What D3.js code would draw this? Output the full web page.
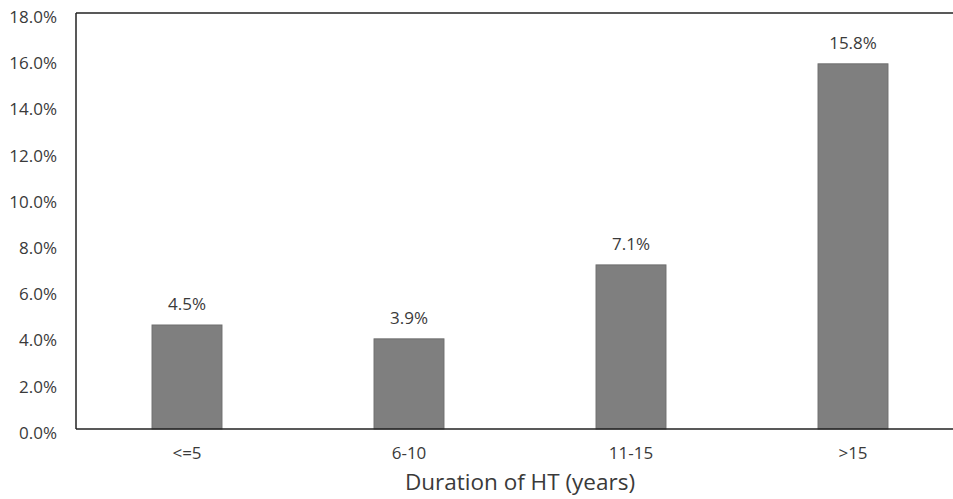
<!DOCTYPE html>
<html><head><meta charset="utf-8">
<script src="https://cdn.jsdelivr.net/npm/d3@7"></script>
<style>body{margin:0;background:#fff}svg{display:block}text{font-family:"Open Sans",sans-serif;fill:#3a3a3a}</style>
</head><body><svg width="953" height="499"></svg>
<script>
const categories = ["<=5","6-10","11-15",">15"];
const values = [4.5,3.9,7.1,15.8];
const yTicks = [0,2,4,6,8,10,12,14,16,18];
const xTitle = "Duration of HT (years)";

(function(){
const svg = d3.select("svg");
const pL = 76, pR = 964, pT = 13, pB = 429;
const x = d3.scaleBand().domain(categories).range([pL,pR]).paddingInner(0.685).paddingOuter(0.3425);
const y = d3.scaleLinear().domain([0,18]).range([pB,pT]);

svg.selectAll("rect.bar").data(values).join("rect").attr("class","bar")
  .attr("x",(d,i)=>x(categories[i])).attr("width",x.bandwidth())
  .attr("y",d=>y(d)).attr("height",d=>y(0)-y(d))
  .attr("fill","#7f7f7f").attr("stroke","#6e6e6e").attr("stroke-width",1);

svg.selectAll("text.val").data(values).join("text").attr("class","val")
  .attr("x",(d,i)=>x(categories[i])+x.bandwidth()/2).attr("y",d=>y(d)-15)
  .attr("text-anchor","middle").attr("font-size",17).text(d=>d.toFixed(1)+"%");

const ya = svg.append("g").attr("transform",`translate(${pL},0)`)
  .call(d3.axisLeft(y).tickValues(yTicks).tickSize(0).tickPadding(19).tickFormat(d=>d.toFixed(1)+"%"));
ya.select(".domain").remove();
ya.selectAll("text").attr("font-size",17).attr("dy","0.55em").style("font-family","'Open Sans',sans-serif").attr("fill","#3a3a3a");

const xa = svg.append("g").attr("transform",`translate(0,${pB})`)
  .call(d3.axisBottom(x).tickSize(0).tickPadding(18));
xa.select(".domain").remove();
xa.selectAll("text").attr("font-size",17).style("font-family","'Open Sans',sans-serif").attr("fill","#3a3a3a");

svg.append("line").attr("x1",pL).attr("x2",953).attr("y1",pT).attr("y2",pT).attr("stroke","#222").attr("stroke-width",1.5);
svg.append("line").attr("x1",pL).attr("x2",pL).attr("y1",pT).attr("y2",pB).attr("stroke","#222").attr("stroke-width",1.5);
svg.append("line").attr("x1",pL).attr("x2",953).attr("y1",pB).attr("y2",pB).attr("stroke","#222").attr("stroke-width",1.5);

svg.append("text").attr("x",520).attr("y",490).attr("text-anchor","middle").attr("font-size",22.5).text(xTitle);
})();
</script></body></html>
